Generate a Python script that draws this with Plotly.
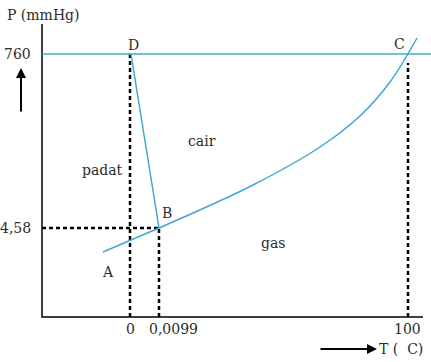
import plotly.graph_objects as go

# Schematic coordinates (diagram units)
x_tick_labels = ["0", "0,0099", "100"]
x_tick_pos = [88, 131, 365]          # label centre positions
y_tick_labels = ["760", "4,58"]
y_tick_pos = [263, 89]

# triple point B, point D, point A
B = (117, 89)
D = (89, 263)
A = (61, 65)
# vaporisation curve B -> C
curve_x = [117, 211, 278, 318, 348, 375]
curve_y = [89, 132, 170, 201, 235, 279]

# dashed guide lines (x position, top)
guide_x = [88, 117, 366]
guide_top = [263, 89, 254]

region_labels = ["padat", "cair", "gas"]
region_x = [60, 160, 231]
region_y = [147, 176, 74]
point_labels = ["A", "B", "C", "D"]
point_lx = [66, 125, 357, 91]
point_ly = [45, 104, 273, 272]

blue = "#41a7d1"
ink = "#2b2b2b"
font = dict(family="DejaVu Serif", size=14, color=ink)
dash = dict(color="black", width=2.5, dash="4px,3px")

fig = go.Figure()

# axes
fig.add_trace(go.Scatter(x=[0, 0, 381], y=[293, 0, 0], mode="lines",
                         line=dict(color="black", width=1.5), hoverinfo="skip"))
# dashed guides
for gx, gt in zip(guide_x, guide_top):
    fig.add_trace(go.Scatter(x=[gx, gx], y=[0, gt], mode="lines",
                             line=dash, hoverinfo="skip"))
fig.add_trace(go.Scatter(x=[0, B[0]], y=[B[1], B[1]], mode="lines",
                         line=dash, hoverinfo="skip"))
# 760 mmHg line
fig.add_trace(go.Scatter(x=[0, 389], y=[263, 263], mode="lines",
                         line=dict(color=blue, width=1.5), hoverinfo="skip"))
# melting line D-B
fig.add_trace(go.Scatter(x=[D[0], B[0]], y=[D[1], B[1]], mode="lines",
                         line=dict(color=blue, width=1.5), hoverinfo="skip"))
# sublimation A-B
fig.add_trace(go.Scatter(x=[A[0], B[0]], y=[A[1], B[1]], mode="lines",
                         line=dict(color=blue, width=1.5), hoverinfo="skip"))
# vaporisation B-C
fig.add_trace(go.Scatter(x=curve_x, y=curve_y, mode="lines",
                         line=dict(color=blue, width=1.5, shape="spline", smoothing=1.0),
                         hoverinfo="skip"))

ann = []
for t, x in zip(x_tick_labels, x_tick_pos):
    ann.append(dict(x=x, y=-12, text=t, showarrow=False, font=font))
for t, y in zip(y_tick_labels, y_tick_pos):
    ann.append(dict(x=-9, y=y, text=t, showarrow=False, font=font, xanchor="right"))
for t, x, y in zip(region_labels, region_x, region_y):
    ann.append(dict(x=x, y=y, text=t, showarrow=False, font=font))
for t, x, y in zip(point_labels, point_lx, point_ly):
    ann.append(dict(x=x, y=y, text=t, showarrow=False, font=font))
ann.append(dict(x=1, y=302, text="P (mmHg)", showarrow=False, font=font))
ann.append(dict(x=359, y=-32, text="T (  C)", showarrow=False, font=font))
# arrows
ann.append(dict(x=-21, y=249, ax=0, ay=45, text="", showarrow=True,
                arrowhead=2, arrowwidth=2, arrowsize=1, arrowcolor="black"))
ann.append(dict(x=335, y=-32, ax=-58, ay=0, text="", showarrow=True,
                arrowhead=2, arrowwidth=2, arrowsize=1, arrowcolor="black"))

fig.update_layout(
    width=431, height=362,
    margin=dict(l=0, r=0, t=0, b=0),
    paper_bgcolor="white", plot_bgcolor="white",
    showlegend=False,
    xaxis=dict(range=[-42, 389], visible=False, fixedrange=True),
    yaxis=dict(range=[-45, 317], visible=False, fixedrange=True),
    annotations=ann,
)

fig.write_html("out.html")
